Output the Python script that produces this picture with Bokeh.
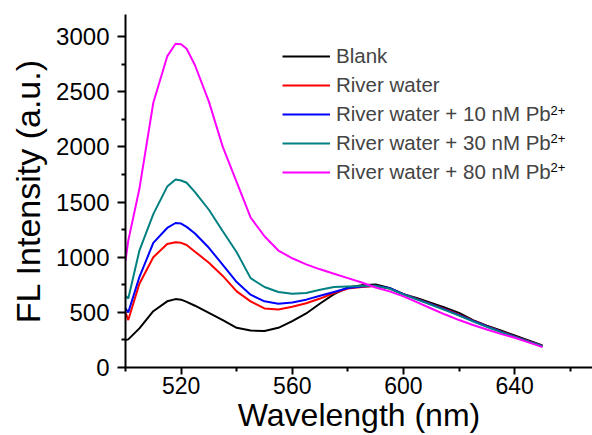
from bokeh.plotting import figure
from bokeh.models import Range1d, FixedTicker, Legend, LegendItem, Label
from bokeh.embed import file_html
from bokeh.resources import INLINE

wavelength = [500, 501, 505, 510, 515, 518, 520, 522, 525, 530, 535, 540, 545, 550, 555, 560,
              565, 570, 575, 580, 585, 590, 595, 600, 605, 610, 615, 620, 625, 630, 635,
              640, 645, 650]

blank = [250, 255, 355, 510, 600, 620, 615, 595, 560, 495, 430, 360, 335, 330, 360, 420,
         490, 580, 665, 725, 745, 752, 722, 665, 628, 585, 542, 495, 430, 380, 335,
         290, 245, 200]
river = [500, 430, 760, 1000, 1120, 1135, 1130, 1110, 1050, 950, 830, 690, 600, 535, 525, 550,
         582, 625, 675, 715, 730, 738, 715, 665, 620, 575, 528, 478, 425, 375, 328,
         282, 238, 195]
pb10 = [535, 500, 820, 1130, 1265, 1310, 1305, 1275, 1215, 1085, 930, 775, 660, 600, 577, 590,
        615, 650, 685, 720, 735, 740, 718, 665, 618, 572, 525, 475, 422, 372, 325,
        280, 236, 193]
pb30 = [650, 625, 1060, 1390, 1640, 1705, 1695, 1675, 1590, 1430, 1235, 1045, 810, 730, 685, 668,
        675, 705, 730, 735, 738, 740, 715, 662, 615, 568, 520, 470, 418, 368, 322,
        278, 234, 192]
pb80 = [970, 1150, 1620, 2400, 2820, 2935, 2930, 2890, 2740, 2410, 2000, 1680, 1360, 1190, 1060, 990,
        935, 890, 850, 810, 770, 725, 690, 645, 590, 535, 480, 430, 385, 345, 305,
        270, 228, 185]

labels = ["Blank", "River water", "River water + 10 nM Pb",
          "River water + 30 nM Pb", "River water + 80 nM Pb"]
superscripts = ["", "", "2+", "2+", "2+"]
colors = ["#000000", "#ff0000", "#0000ff", "#008080", "#ff00ff"]
series = [blank, river, pb10, pb30, pb80]

x_major = [520, 560, 600, 640]
x_minor = [500, 540, 580, 620, 660]
y_major = [0, 500, 1000, 1500, 2000, 2500, 3000]
y_minor = [250, 750, 1250, 1750, 2250, 2750]

FONT = "Liberation Sans"

p = figure(width=592, height=435, output_backend="svg", toolbar_location=None,
           x_range=Range1d(500, 668), y_range=Range1d(0, 3200),
           min_border_left=125, min_border_right=0, min_border_top=14, min_border_bottom=68)
p.outline_line_color = None
p.xgrid.visible = False
p.ygrid.visible = False
p.background_fill_color = "white"
p.border_fill_color = "white"

items = []
for lab, col, ys in zip(labels, colors, series):
    r = p.line(wavelength, ys, line_color=col, line_width=2)
    items.append(LegendItem(label=lab, renderers=[r]))

for ax in (p.xaxis[0], p.yaxis[0]):
    ax.axis_line_width = 2
    ax.major_tick_line_width = 2
    ax.minor_tick_line_width = 2
    ax.major_label_text_font = FONT
    ax.axis_label_text_font = FONT
    ax.major_label_text_color = "black"
    ax.axis_label_text_color = "black"
    ax.axis_label_text_font_style = "normal"
    ax.major_tick_in = 0
    ax.minor_tick_in = 0

xa = p.xaxis[0]
xa.ticker = FixedTicker(ticks=x_major, minor_ticks=x_minor)
xa.axis_label = "Wavelength (nm)"
xa.major_label_text_font_size = "23px"
xa.axis_label_text_font_size = "32px"
xa.major_tick_out = 7
xa.minor_tick_out = 4
xa.major_label_standoff = 2
xa.axis_label_standoff = 0

ya = p.yaxis[0]
ya.ticker = FixedTicker(ticks=y_major, minor_ticks=y_minor)
ya.axis_label = "FL Intensity (a.u.)"
ya.major_label_text_font_size = "24px"
ya.axis_label_text_font_size = "34px"
ya.major_tick_out = 8
ya.minor_tick_out = 4
ya.major_label_standoff = 8
ya.axis_label_standoff = 6

legend = Legend(items=items, location=(157, 183), padding=0, spacing=5,
                glyph_width=48, glyph_height=20, label_standoff=6,
                label_text_font=FONT, label_text_font_size="20.5px",
                border_line_alpha=0, background_fill_alpha=0)
p.add_layout(legend)

# superscript "2+" after "Pb" in the legend labels (screen px from frame bottom-left)
for i, sup in enumerate(superscripts):
    if sup:
        row_center = 171.7 - (4 - i) * 28.5     # px from top of canvas
        p.add_layout(Label(x=425, y=367 - (row_center - 5), x_units="screen", y_units="screen",
                           text=sup, text_font=FONT, text_font_size="13px",
                           text_baseline="middle", text_align="left", text_color="black"))

open("out.html", "w").write(file_html(p, INLINE))
